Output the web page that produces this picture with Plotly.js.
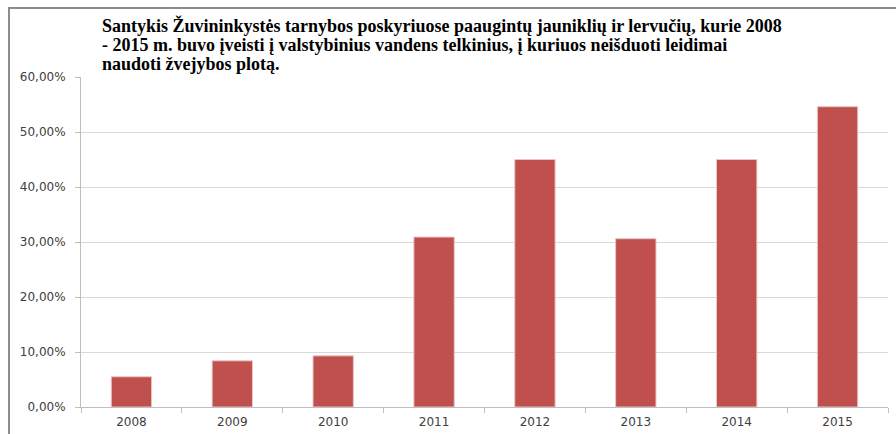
<!DOCTYPE html>
<html>
<head>
<meta charset="utf-8">
<script src="https://cdn.plot.ly/plotly-3.0.1.min.js"></script>
<style>
  body { margin: 0; background: #fff; }
  #plot { width: 896px; height: 434px; }
  #frame { position: absolute; left: 8px; top: 7px; width: 900px; height: 500px;
           border-left: 2px solid #8c8c8c; border-top: 2px solid #8c8c8c; pointer-events: none; }
</style>
</head>
<body>
<div id="plot"></div>
<div id="frame"></div>
<script>
// categories and values (share of stocked fish, as fractions)
var years = ["2008", "2009", "2010", "2011", "2012", "2013", "2014", "2015"];
var shares = [0.055, 0.084, 0.093, 0.309, 0.450, 0.306, 0.450, 0.546];
var yTicks = [0, 0.1, 0.2, 0.3, 0.4, 0.5, 0.6];

var titleLines = [
  "Santykis Žuvininkystės tarnybos poskyriuose paaugintų jauniklių ir lervučių, kurie 2008",
  "- 2015 m. buvo įveisti į valstybinius vandens telkinius, į kuriuos neišduoti leidimai",
  "naudoti žvejybos plotą."
];

var trace = {
  x: years,
  y: shares,
  type: "bar",
  marker: {
    color: "#C0504D",
    line: {color: "#EBC5C4", width: 1}
  },
  hoverinfo: "x+y"
};

// title drawn line by line so the spacing matches the original
var titleAnn = titleLines.map(function (t, i) {
  return {
    text: t,
    xref: "paper", yref: "paper",
    x: 0.0235, y: 1.155 - i * 0.0585,
    xanchor: "left", yanchor: "middle",
    showarrow: false,
    font: {family: "Liberation Serif", size: 18, color: "#000000", weight: "bold"}
  };
});

var layout = {
  width: 896,
  height: 434,
  margin: {l: 81, r: 8, t: 77, b: 27},
  paper_bgcolor: "#ffffff",
  plot_bgcolor: "#ffffff",
  bargap: 0.6,
  showlegend: false,
  separators: ",.",
  annotations: titleAnn,
  xaxis: {
    type: "category",
    showline: true,
    linecolor: "#BFBFBF",
    linewidth: 1,
    ticks: "outside",
    tickson: "boundaries",
    ticklen: 5,
    tickcolor: "#BFBFBF",
    ticklabelstandoff: 4,
    showgrid: false,
    tickfont: {family: "DejaVu Sans", size: 12, color: "#404040"}
  },
  yaxis: {
    range: [0, 0.6],
    tickvals: yTicks,
    tickformat: ".2%",
    showline: true,
    linecolor: "#BFBFBF",
    linewidth: 1,
    ticks: "outside",
    ticklen: 5,
    tickcolor: "#BFBFBF",
    ticklabelstandoff: 7,
    showgrid: true,
    gridcolor: "#D9D9D9",
    zeroline: false,
    tickfont: {family: "DejaVu Sans", size: 12, color: "#404040"}
  }
};

Plotly.newPlot("plot", [trace], layout, {displayModeBar: false});
</script>
</body>
</html>
